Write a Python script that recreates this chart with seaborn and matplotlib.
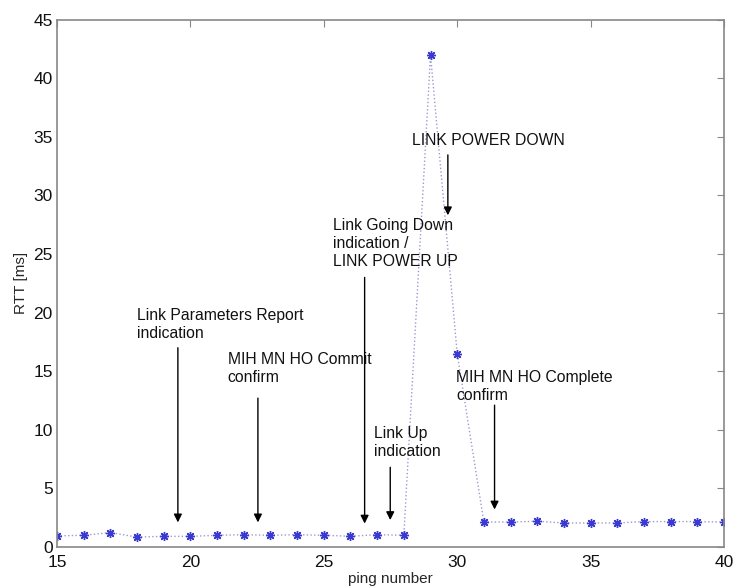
import matplotlib
matplotlib.use("Agg")
import matplotlib.pyplot as plt
import seaborn as sns
import pandas as pd

ping = [15, 16, 17, 18, 19, 20, 21, 22, 23, 24, 25, 26, 27, 28, 29, 30,
        31, 32, 33, 34, 35, 36, 37, 38, 39, 40]
rtt = [0.95, 1.0, 1.23, 0.85, 0.91, 0.91, 1.0, 1.05, 1.0, 1.05, 1.0, 0.92, 1.05, 1.0,
       42.0, 16.5, 2.13, 2.13, 2.2, 2.05, 2.05, 2.05, 2.17, 2.17, 2.17, 2.13]

# (label, text x, text top y, arrow x, arrow start y, arrow tip y)
event_labels = ["Link Parameters Report\nindication",
                "MIH MN HO Commit\nconfirm",
                "Link Going Down\nindication /\nLINK POWER UP",
                "Link Up\nindication",
                "LINK POWER DOWN",
                "MIH MN HO Complete\nconfirm"]
text_x = [18.0, 21.4, 25.33, 26.9, 28.29, 29.97]
text_y = [20.4, 16.6, 28.1, 10.3, 35.3, 15.1]
arrow_x = [19.53, 22.53, 26.53, 27.49, 29.65, 31.4]
arrow_from = [17.0, 12.7, 23.0, 6.8, 33.45, 12.1]
arrow_to = [2.1, 2.1, 2.0, 2.3, 28.3, 3.2]

sns.set_style("white")
plt.rcParams["font.family"] = ["Liberation Sans", "DejaVu Sans"]

fig = plt.figure(figsize=(7.33, 5.88), dpi=100)
ax = fig.add_axes([0.0778, 0.0697, 0.9099, 0.8971])

df = pd.DataFrame({"ping": ping, "rtt": rtt})
sns.lineplot(data=df, x="ping", y="rtt", ax=ax, color="#9a9ad6", linestyle=":",
             linewidth=1.0, marker=(8, 2, 0), markersize=6.5,
             markeredgecolor="#3a3ad0", markeredgewidth=1.0)

for lab, tx, ty, axx, y0, y1 in zip(event_labels, text_x, text_y, arrow_x, arrow_from, arrow_to):
    ax.text(tx, ty, lab, ha="left", va="top", fontsize=11.3, color="#111111", linespacing=1.25)
    ax.annotate("", xy=(axx, y1), xytext=(axx, y0),
                arrowprops=dict(arrowstyle="-|>", color="black", lw=1.0, mutation_scale=12,
                                shrinkA=0, shrinkB=0))

ax.set_xlim(15, 40)
ax.set_ylim(0, 45)
ax.set_xticks([15, 20, 25, 30, 35, 40])
ax.set_yticks([0, 5, 10, 15, 20, 25, 30, 35, 40, 45])
ax.set_xlabel("ping number", fontsize=11, labelpad=1)
ax.set_ylabel("RTT [ms]", fontsize=11, labelpad=4)

for s in ax.spines.values():
    s.set_color("#888888")
    s.set_linewidth(1.2)
ax.tick_params(direction="in", length=5, width=0.8, color="#888888",
               labelsize=12.5, top=True, right=True, labelcolor="#111111")
ax.tick_params(axis="x", pad=6)
ax.tick_params(axis="y", pad=3)

fig.savefig("out.png", dpi=100)
